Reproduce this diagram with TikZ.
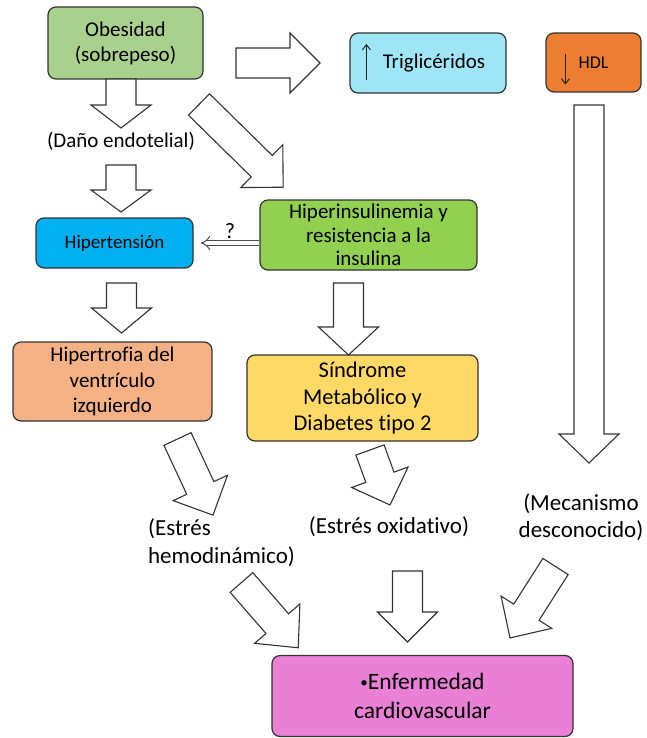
\documentclass[tikz,border=0pt]{standalone}
\usepackage{fontspec}
\setmainfont{Carlito}[Ligatures=NoCommon]
\usepackage{tikz}
\usetikzlibrary{calc,arrows.meta}

\definecolor{obesgreen}{HTML}{A9D18E}
\definecolor{trigcyan}{HTML}{9EE5F5}
\definecolor{hdlorange}{HTML}{ED7D31}
\definecolor{hipblue}{HTML}{00B0F0}
\definecolor{insgreen}{HTML}{92D050}
\definecolor{trofsalmon}{HTML}{F4B183}
\definecolor{sindyellow}{HTML}{FFD966}
\definecolor{enfpink}{HTML}{EA7FD6}

\tikzset{
  box/.style={draw=black!80, line width=1.2pt, rounded corners=8pt, align=center, inner sep=1pt},
  blockarr/.style={draw=black!80, line width=1.1pt, fill=white, line join=miter},
  thinarr/.style={line width=1pt, draw=black!85, -{Straight Barb[length=5pt,width=8pt]}},
}
% base point, angle, length, head length
\newcommand{\bigarrow}[4]{\draw[blockarr, shift={#1}, rotate=#2] (0,-15) -- (#3-#4,-15) -- (#3-#4,-30) -- (#3,0) -- (#3-#4,30) -- (#3-#4,15) -- (0,15) -- cycle;}
\newcommand{\smallbullet}{\raisebox{2.5pt}{\fontsize{15}{15}\selectfont •}}

\begin{document}
\begin{tikzpicture}[x=1pt,y=-1pt]
\useasboundingbox (0,0) rectangle (646,738);

    \node[box, fill=obesgreen, minimum width=155, minimum height=72, font=\fontsize{21}{25}\selectfont] (obes) at (125.5,43) {Obesidad\\(sobrepeso)};
    \node[box, fill=trigcyan, minimum width=156, minimum height=60, font=\fontsize{21}{25}\selectfont] (trig) at (428,63) {\hspace*{12pt}Triglicéridos};
    \node[box, fill=hdlorange, minimum width=95, minimum height=59, font=\fontsize{18}{22}\selectfont] (hdl) at (593.5,62.5) {HDL};
    \node[box, fill=hipblue, minimum width=157, minimum height=50, font=\fontsize{19}{23}\selectfont] (hiper) at (114.5,243) {Hipertensión};
    \node[box, fill=insgreen, minimum width=217, minimum height=70, font=\fontsize{21}{23.5}\selectfont] (ins) at (368.5,235) {Hiperinsulinemia y\\resistencia a la\\insulina};
    \node[box, fill=trofsalmon, minimum width=199, minimum height=79, font=\fontsize{21}{25.5}\selectfont] (trof) at (112.5,381.5) {Hipertrofia del\\ventrículo\\izquierdo};
    \node[box, fill=sindyellow, minimum width=231, minimum height=86, font=\fontsize{22.5}{26.5}\selectfont] (sind) at (362.5,398) {Síndrome\\Metabólico y\\Diabetes tipo 2};
    \node[box, fill=enfpink, minimum width=301, minimum height=81, font=\fontsize{23.5}{28.5}\selectfont] (enf) at (422.5,696) {\smallbullet Enfermedad\\cardiovascular};

    % arrows inside the two lipid boxes
    \draw[thinarr] ($(trig.west)+(17,17)$) -- ($(trig.west)+(17,-19)$);
    \draw[thinarr] ($(hdl.west)+(20,-8)$) -- ($(hdl.west)+(20,22)$);

    % intermediate labels
    \node[font=\fontsize{21}{25}\selectfont] (dano) at (121,141) {(Daño endotelial)};
    \node[align=left, font=\fontsize{23}{28}\selectfont] (hemo) at (221.5,543) {(Estrés\\hemodinámico)};
    \node[font=\fontsize{23}{27}\selectfont] (oxid) at (389,527) {(Estrés oxidativo)};
    \node[align=center, font=\fontsize{23}{27}\selectfont] (meca) at (581,517) {(Mecanismo\\desconocido)};

    % block arrows
    \bigarrow{(121,79)}{-90}{49}{23}
    \bigarrow{(121,165)}{-90}{47}{22}
    \bigarrow{(236,63)}{0}{84}{30}
    \bigarrow{(199,104.5)}{-44.5}{118}{30}
    \bigarrow{(121.5,283)}{-90}{50}{25}
    \bigarrow{(348.5,283)}{-90}{72}{28}
    \bigarrow{(589,105)}{-90}{358}{29}
    \bigarrow{(177.5,439)}{-65}{84}{30}
    \bigarrow{(370,450)}{-70}{58.5}{29.5}
    \bigarrow{(241.5,582.5)}{-49}{86.5}{32}
    \bigarrow{(407.5,571)}{-90}{71}{30}
    \bigarrow{(555.5,566.5)}{-122.5}{84.7}{30.5}

    \draw[double=white, double distance=4pt, line width=1pt, draw=black!70, -{Implies}] (ins.west |- hiper.east) -- node[above=1pt, font=\fontsize{22}{24}\selectfont] {?} ([xshift=7pt]hiper.east);
\end{tikzpicture}
\end{document}
